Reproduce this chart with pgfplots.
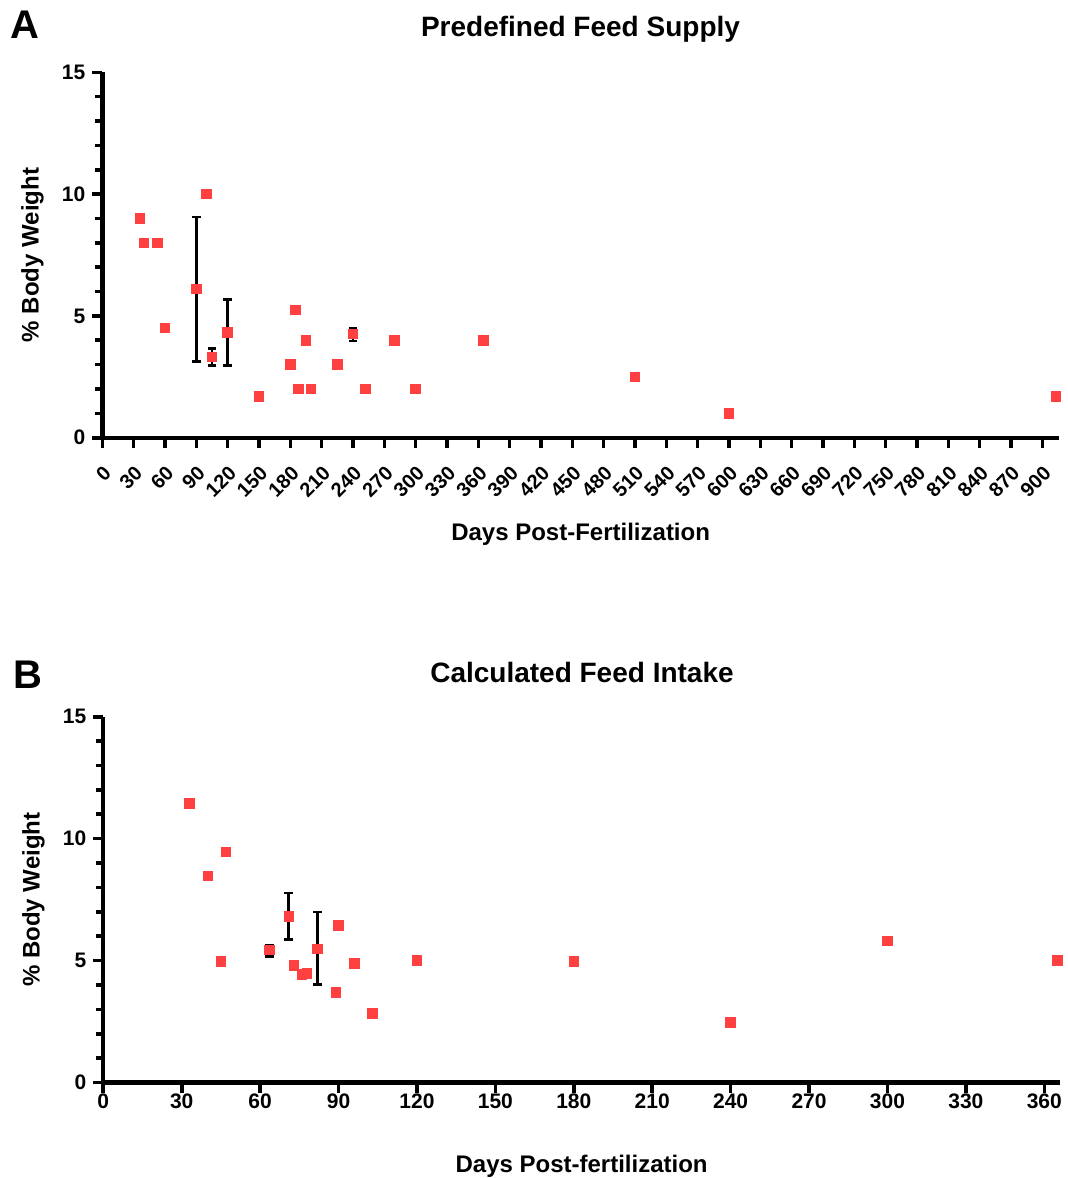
\documentclass[border=0pt]{standalone}
\usepackage{fontspec}
\setmainfont{Liberation Sans}
\usepackage{pgfplots}
\pgfplotsset{compat=1.18}
\definecolor{cPt}{HTML}{FF4040}

\pgfplotsset{
  gp/.style={
    scale only axis, width=478.35pt,
    axis lines=left, axis line style={-, line width=2.2pt},
    ymin=0, ymax=15, ytick={0,5,10,15}, minor y tick num=4,
    tick align=outside, major tick length=5pt, minor tick length=3.5pt,
    tick style={black, line width=1.8pt},
    /pgf/number format/assume math mode=true,
    tick label style={font=\bfseries\fontsize{10.5}{12}\selectfont},
    clip=false,
    ylabel={\% Body Weight},
    every axis y label/.style={at={(axis description cs:-0.073,0.5)}, rotate=90, anchor=center,
      font=\bfseries\fontsize{12}{14}\selectfont},
  },
  pts/.style={only marks, mark=square*, mark size=2.4pt, mark options={fill=cPt, draw=cPt, line width=0pt}},
  ebar/.style={only marks, mark=none, forget plot,
    error bars/.cd, y dir=both, y explicit, error mark=-,
    error bar style={draw=black, line width=1.4pt},
    error mark options={rotate=90, draw=black, line width=1.4pt, mark size=2.2pt}},
}

\begin{document}
\begin{tikzpicture}
\useasboundingbox (0,0) rectangle (534pt,-589pt);

% panel A
\node[anchor=base west, inner sep=0, font=\bfseries\fontsize{20}{22}\selectfont] at (5pt,-19.2pt) {A};
\node[anchor=base, inner sep=0, font=\bfseries\fontsize{14}{16}\selectfont] at (290.25pt,-18pt) {Predefined Feed Supply};
\begin{axis}[gp, at={(51.15pt,-218.85pt)}, anchor=south west, height=182.7pt,
  xmin=0, xmax=916, xtick distance=30,
  xticklabel style={rotate=45, anchor=north east, xshift=-2.6pt, yshift=-2.6pt,
    font=\bfseries\fontsize{10}{11}\selectfont},
  xlabel={Days Post-Fertilization},
  every axis x label/.style={at={(axis description cs:0.5,-0.2824)}, anchor=base,
    font=\bfseries\fontsize{12}{14}\selectfont}]
\addplot[ebar] table[x=x, y=y, y error plus=ep, y error minus=em] {
x y ep em
90 6.1 2.96 2.98
105 3.31 0.34 0.34
120 4.33 1.34 1.36
240 4.25 0.22 0.28
};
\addplot[pts] coordinates {
(36,9) (40,8) (53,8) (60,4.5) (90,6.1) (100,10) (105,3.31) (120,4.33)
(150,1.7) (180,3) (185,5.25) (188,2) (195,4) (200,2) (225,3) (240,4.25)
(252,2) (280,4) (300,2) (365,4) (510,2.5) (600,1) (913,1.7)
};
\end{axis}

% panel B
\node[anchor=base west, inner sep=0, font=\bfseries\fontsize{20}{22}\selectfont] at (6.5pt,-344pt) {B};
\node[anchor=base, inner sep=0, font=\bfseries\fontsize{14}{16}\selectfont] at (291pt,-341pt) {Calculated Feed Intake};
\begin{axis}[gp, at={(51.65pt,-541.25pt)}, anchor=south west, height=182.9pt,
  xmin=0, xmax=366, xtick distance=30,
  xticklabel style={yshift=3pt},
  xlabel={Days Post-fertilization},
  every axis x label/.style={at={(axis description cs:0.5,-0.2447)}, anchor=base,
    font=\bfseries\fontsize{12}{14}\selectfont}]
\addplot[ebar] table[x=x, y=y, y error plus=ep, y error minus=em] {
x y ep em
63.5 5.43 0.2 0.25
71 6.81 0.96 0.94
82 5.48 1.51 1.46
};
\addplot[pts] coordinates {
(33,11.45) (40,8.47) (45,4.95) (47,9.45) (63.5,5.43) (71,6.81) (73,4.79)
(76,4.44) (78,4.47) (82,5.48) (89,3.68) (90,6.44) (96,4.87) (103,2.83)
(120,5) (180,4.95) (240,2.45) (300,5.81) (365,5.0)
};
\end{axis}
\end{tikzpicture}
\end{document}
